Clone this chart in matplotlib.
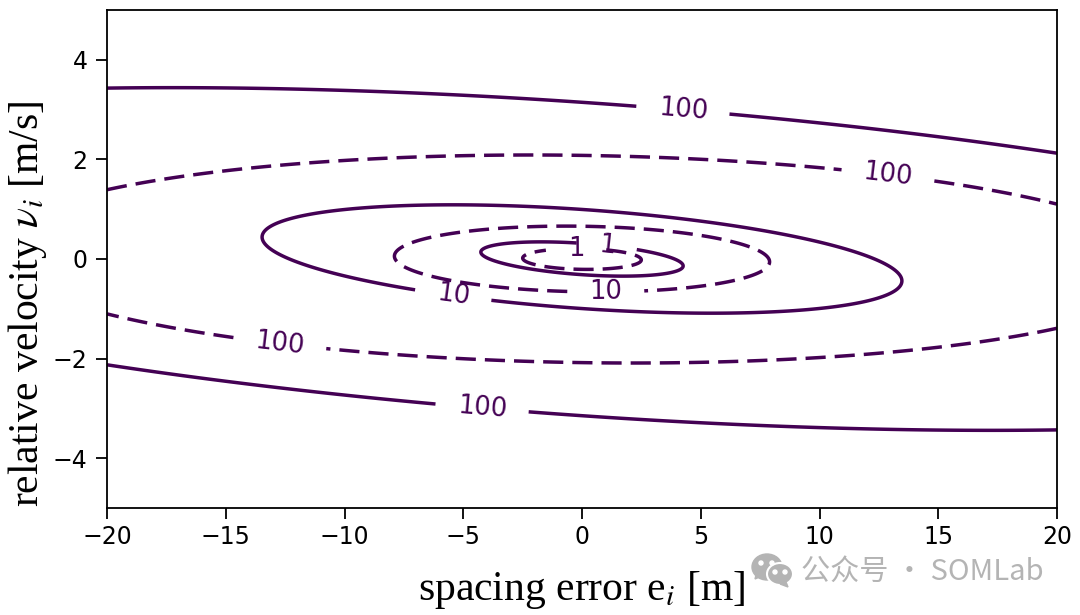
import numpy as np
import matplotlib
matplotlib.use('Agg')
import matplotlib.pyplot as plt
from matplotlib.patches import Ellipse, Polygon

plt.rcParams['mathtext.fontset'] = 'stix'

# quadratic form coefficients (e^2, e*v, v^2) of the two Lyapunov-like functions
solid_coef = [0.0659, 0.66, 10.1]
dashed_coef = [0.1615, 0.334, 23.1]
levels = [1, 10, 100]
xticks = [-20, -15, -10, -5, 0, 5, 10, 15, 20]
yticks = [-4, -2, 0, 2, 4]

# label anchors for each family of curves
solid_labels = [(1.05, 0.3), (-5.4, -0.65), (4.25, 3.0), (-4.2, -2.95)]
dashed_labels = [(-0.25, 0.22), (1.0, -0.6), (12.9, 1.75), (-12.7, -1.6)]

color = '#440154'
fig = plt.figure(figsize=(10.8, 6.15), dpi=100)
ax = fig.add_axes([107 / 1080, 1 - 508 / 615, 950 / 1080, 498 / 615])

e = np.linspace(-20, 20, 801)
v = np.linspace(-5, 5, 801)
E, V = np.meshgrid(e, v)

def quad(c):
    return c[0] * E ** 2 + c[1] * E * V + c[2] * V ** 2

cs1 = ax.contour(E, V, quad(solid_coef), levels=levels, colors=color, linewidths=2.5, linestyles='solid')
cs2 = ax.contour(E, V, quad(dashed_coef), levels=levels, colors=color, linewidths=2.5,
                 linestyles=[(0, (5.8, 2.6))])
ax.set_xlim(-20, 20)
ax.set_ylim(-5, 5)
ax.clabel(cs1, fmt='%d', fontsize=18.5, inline_spacing=22, manual=solid_labels)
ax.clabel(cs2, fmt='%d', fontsize=18.5, inline_spacing=22, manual=dashed_labels)

ax.set_xticks(xticks)
ax.set_yticks(yticks)
ax.tick_params(axis='x', labelsize=17, length=8, width=1.3, pad=4.5)
ax.tick_params(axis='y', labelsize=17, length=8, width=1.3, pad=6)
for s in ax.spines.values():
    s.set_linewidth(1.3)

ax.set_xlabel(r'spacing error e$_i$ [m]', fontsize=30, family='Liberation Serif', labelpad=14)
ax.set_ylabel(r'relative velocity $\nu_i$ [m/s]', fontsize=30, family='Liberation Serif', labelpad=3, y=0.41)

# watermark in the lower right corner
grey = '#b4b4b4'
fig.text(801 / 1080, 1 - 573 / 615, '公众号 · SOMLab', fontsize=21, color=grey, va='center',
         family=['Noto Sans CJK SC', 'DejaVu Sans'])
overlay = fig.add_axes([0, 0, 1, 1], facecolor='none')
overlay.set_xlim(0, 1080)
overlay.set_ylim(615, 0)
overlay.axis('off')
overlay.add_patch(Ellipse((767, 567), 30, 26, color=grey))
overlay.add_patch(Polygon([[756, 575], [755, 579], [762, 576]], color=grey))
overlay.add_patch(Ellipse((780, 574), 26, 22, color=grey, ec='white', lw=1.5))
overlay.add_patch(Polygon([[786, 582], [788, 587], [780, 584]], color=grey))
for x, y, fc in [(761, 563, 'white'), (772, 563, 'white'), (775, 572, 'white'), (785, 572, 'white')]:
    overlay.add_patch(Ellipse((x, y), 4, 4, color=fc))

plt.savefig('out.png', dpi=100)
